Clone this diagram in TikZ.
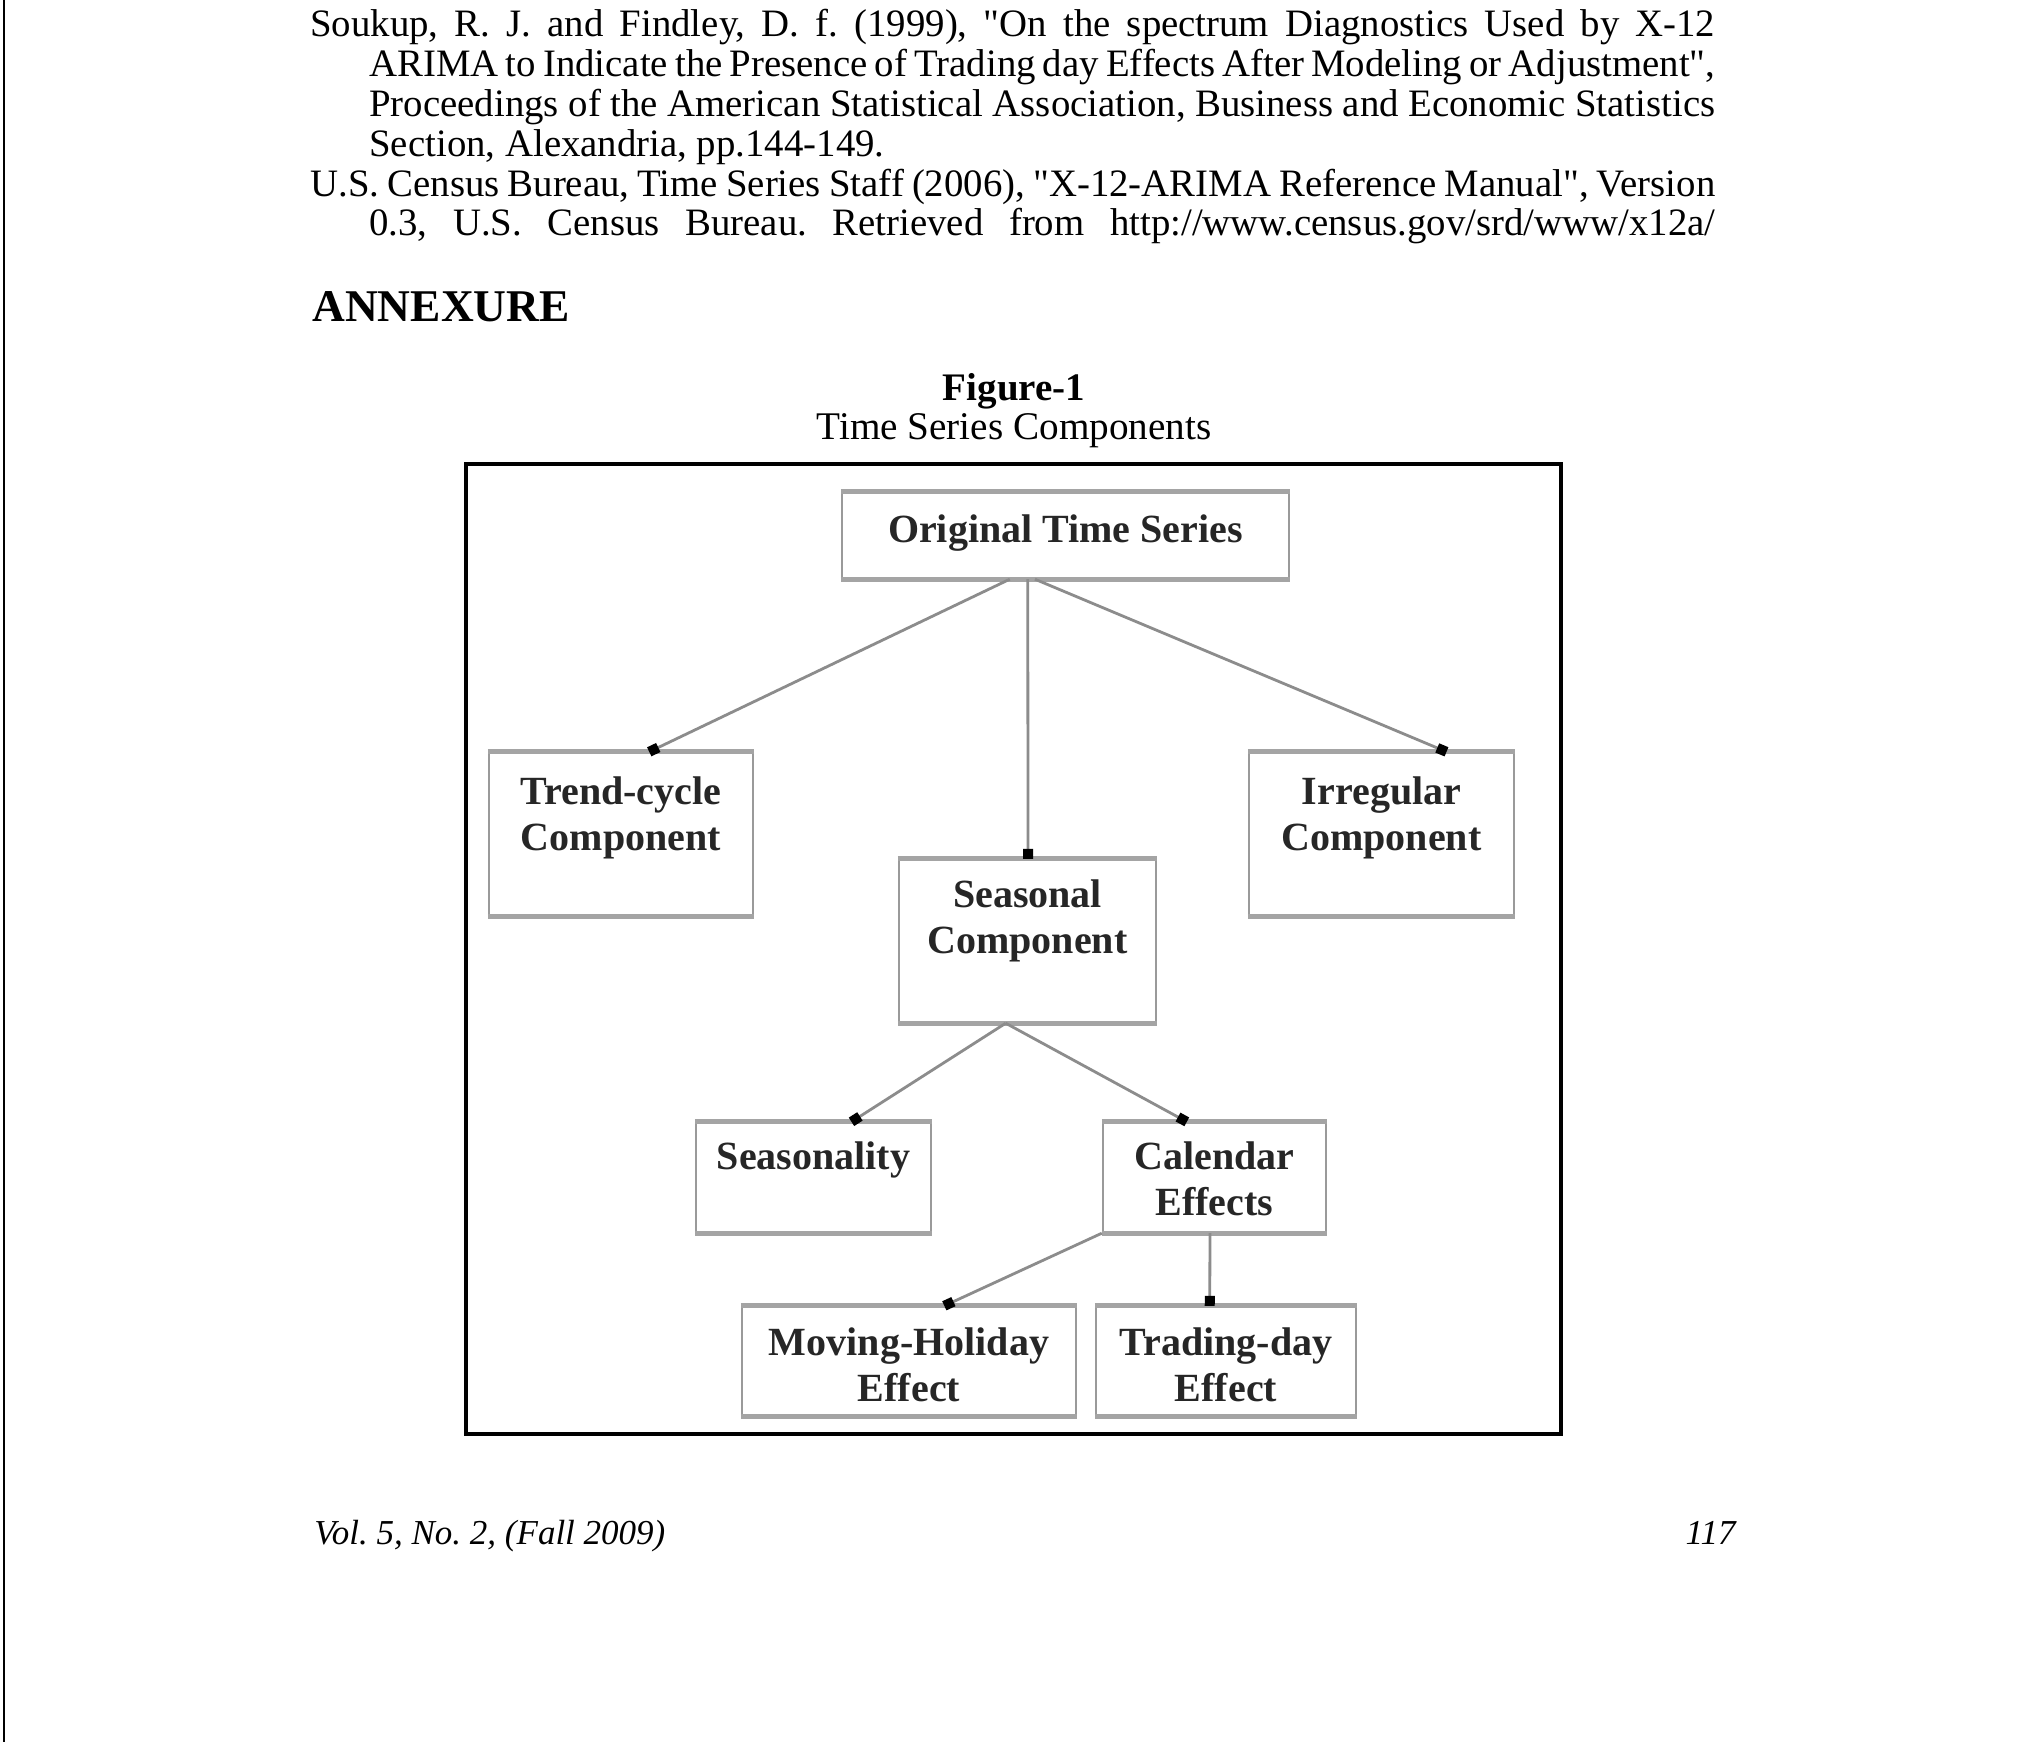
\documentclass[tikz,border=0pt]{standalone}
\usepackage{fontspec}
\setmainfont{Liberation Serif}[Ligatures=TeXOff]
\usetikzlibrary{arrows.meta, calc}
\definecolor{boxgray}{HTML}{9A9A9A}
\definecolor{bargray}{HTML}{A4A4A4}
\definecolor{linkgray}{HTML}{8C8C8C}
\definecolor{labelgray}{HTML}{262626}
\frenchspacing

\tikzset{
    comp/.style={draw=boxgray, line width=1.2pt, fill=white, inner sep=0pt},
    bar/.style={draw=bargray, line width=2.6pt},
    lbl/.style={font=\fontsize{20}{23}\selectfont\bfseries, text=labelgray, align=center, anchor=north, inner sep=0pt},
    link/.style={draw=linkgray, line width=1.4pt, -{Square[length=5pt, width=5pt, color=black]}},
    refline/.style={font=\fontsize{19.4}{20}\selectfont, anchor=base west, inner sep=0pt}
}

\begin{document}
\begin{tikzpicture}[x=0.5pt, y=-0.5pt]
    \useasboundingbox (0,0) rectangle (2025,1742);
    \fill[white] (0,0) rectangle (2025,1742);

    % Page edge
    \draw[line width=1.2pt] (4,0) -- (4,1742);

    % References
    \node[refline] (soukupa) at (310,36) {\makebox[702.5pt][s]{Soukup, R. J. and Findley, D. f. (1999), "On the spectrum Diagnostics Used by X-12}};
    \node[refline] (soukupb) at (369,76) {\makebox[673pt][s]{ARIMA to Indicate the Presence of Trading day Effects After Modeling or Adjustment",}};
    \node[refline] (soukupc) at (369,116) {\makebox[673pt][s]{Proceedings of the American Statistical Association, Business and Economic Statistics}};
    \node[refline] (soukupd) at (369,156) {Section, Alexandria, pp.144-149.};
    \node[refline] (censusa) at (310,196) {\makebox[702.5pt][s]{U.S. Census Bureau, Time Series Staff (2006), "X-12-ARIMA Reference Manual", Version}};
    \node[refline] (censusb) at (369,235) {\makebox[673pt][s]{0.3, U.S. Census Bureau. Retrieved from http://www.census.gov/srd/www/x12a/}};

    % Headings
    \node[refline, font=\fontsize{22.7}{24}\selectfont\bfseries] (annex) at (312,321) {ANNEXURE};
    \node[refline, anchor=base, font=\fontsize{19.5}{20}\selectfont\bfseries] (fignum) at (1014,400) {Figure-1};
    \node[refline, anchor=base, font=\fontsize{19.6}{20}\selectfont] (figtitle) at (1014,439) {Time Series Components};

    % Frame
    \draw[line width=1.6pt] (466,464) rectangle (1561,1434);

    % Boxes
    \node[comp, minimum width=223.5pt, minimum height=42.5pt] (orig) at (1065.5,535.5) {};
    \node[comp, minimum width=132pt, minimum height=81pt] (trend) at (621,834) {};
    \node[comp, minimum width=132.5pt, minimum height=81pt] (irreg) at (1381.5,834) {};
    \node[comp, minimum width=128.5pt, minimum height=81pt] (seas) at (1027.5,941) {};
    \node[comp, minimum width=117.5pt, minimum height=54.5pt] (seasy) at (813.5,1177.5) {};
    \node[comp, minimum width=111.5pt, minimum height=54.5pt] (cal) at (1214.5,1177.5) {};
    \node[comp, minimum width=167pt, minimum height=54pt] (moving) at (909,1361) {};
    \node[comp, minimum width=130pt, minimum height=54pt] (trading) at (1226,1361) {};

    \foreach \b in {orig, trend, irreg, seas, seasy, cal, moving, trading} {
        \draw[bar] (\b.north west) -- (\b.north east);
        \draw[bar] (\b.south west) -- (\b.south east);
    }

    % Labels
    \node[lbl] (origtxt) at ([yshift=-11.5pt]orig.north) {Original Time Series};
    \node[lbl] (trendtxt) at ([yshift=-12.5pt]trend.north) {Trend-cycle\\Component};
    \node[lbl] (irregtxt) at ([yshift=-12.5pt]irreg.north) {Irregular\\Component};
    \node[lbl] (seastxt) at ([yshift=-10.5pt]seas.north) {Seasonal\\Component};
    \node[lbl] (seasytxt) at ([yshift=-10pt]seasy.north) {Seasonality};
    \node[lbl] (caltxt) at ([yshift=-10pt]cal.north) {Calendar\\Effects};
    \node[lbl] (movingtxt) at ([yshift=-11pt]moving.north) {Moving-Holiday\\Effect};
    \node[lbl] (tradingtxt) at ([yshift=-11pt]trading.north) {Trading-day\\Effect};

    % Connectors
    \draw[link] ($(orig.south west)!.376!(orig.south east)$) -- ($(trend.north west)!.606!(trend.north east)$);
    \draw[link] ($(orig.south west)!.416!(orig.south east)$) -- ($(seas.north west)!.502!(seas.north east)$);
    \draw[link] ($(orig.south west)!.432!(orig.south east)$) -- ($(irreg.north west)!.743!(irreg.north east)$);
    \draw[link] ($(seas.south west)!.416!(seas.south east)$) -- ($(seasy.north west)!.66!(seasy.north east)$);
    \draw[link] ($(seas.south west)!.416!(seas.south east)$) -- ($(cal.north west)!.377!(cal.north east)$);
    \draw[link] (cal.south west) -- ($(moving.north west)!.605!(moving.north east)$);
    \draw[link] ($(cal.south west)!.48!(cal.south east)$) -- ($(trading.north west)!.438!(trading.north east)$);

    % Footer
    \node[refline, font=\fontsize{17.5}{20}\selectfont\itshape] (vol) at (314,1544) {Vol. 5, No. 2, (Fall 2009)};
    \node[refline, anchor=base east, font=\fontsize{17.5}{20}\selectfont\itshape] (pagenum) at (1736,1544) {117};
\end{tikzpicture}
\end{document}
